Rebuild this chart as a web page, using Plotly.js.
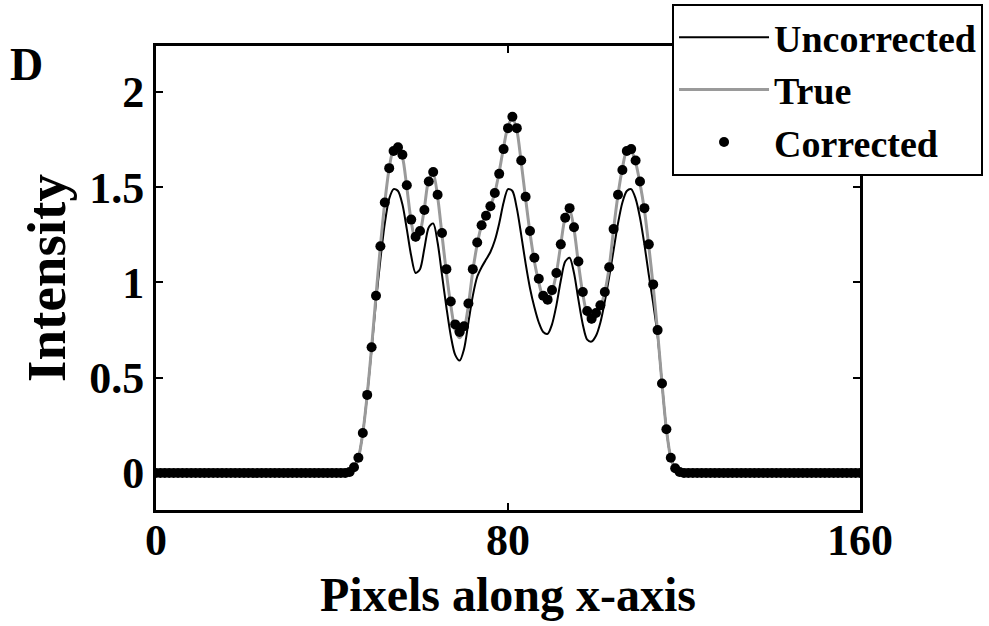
<!DOCTYPE html>
<html>
<head>
<meta charset="utf-8">
<script src="https://cdn.plot.ly/plotly-3.0.1.min.js"></script>
<style>html,body{margin:0;padding:0;background:#fff;}#chart{width:989px;height:626px;}</style>
</head>
<body>
<div id="chart"></div>
<script>
var pixels = [0,1,2,3,4,5,6,7,8,9,10,11,12,13,14,15,16,17,18,19,20,21,22,23,24,25,26,27,28,29,30,31,32,33,34,35,36,37,38,39,
40,41,42,43,44,45,46,47,48,49,50,51,52,53,54,55,56,57,58,59,60,61,62,63,64,65,66,67,68,69,70,71,72,73,74,75,76,77,78,79,
80,81,82,83,84,85,86,87,88,89,90,91,92,93,94,95,96,97,98,99,100,101,102,103,104,105,106,107,108,109,110,111,112,113,114,115,116,117,118,119,
120,121,122,123,124,125,126,127,128,129,130,131,132,133,134,135,136,137,138,139,140,141,142,143,144,145,146,147,148,149,150,151,152,153,154,155,156,157,158,159,160];

// pixels 0-43
var zerosLeft = [0,0,0,0,0,0,0,0,0,0,0,0,0,0,0,0,0,0,0,0,0,0,0,0,0,0,0,0,0,0,0,0,0,0,0,0,0,0,0,0,0,0,0,0];
// pixels 120-160
var zerosRight = [0,0,0,0,0,0,0,0,0,0,0,0,0,0,0,0,0,0,0,0,0,0,0,0,0,0,0,0,0,0,0,0,0,0,0,0,0,0,0,0,0];

// pixels 44-119
var uncorrectedMid = [0.005,0.03,0.08,0.21,0.41,0.65,0.90,1.12,1.31,1.44,1.49,1.48,1.41,1.28,1.14,1.05,1.07,1.18,1.29,1.31,
1.21,1.04,0.87,0.72,0.62,0.59,0.65,0.79,0.93,1.03,1.08,1.12,1.16,1.22,1.31,1.42,1.49,1.48,1.39,1.25,
1.10,0.97,0.87,0.79,0.74,0.73,0.78,0.88,1.01,1.11,1.13,1.05,0.91,0.78,0.70,0.69,0.72,0.79,0.90,1.03,
1.17,1.31,1.42,1.48,1.49,1.44,1.34,1.20,1.04,0.89,0.72,0.47,0.23,0.08,0.025,0.005];

var trueMid = [0.005,0.03,0.08,0.21,0.41,0.66,0.93,1.19,1.42,1.60,1.70,1.71,1.66,1.50,1.32,1.22,1.26,1.39,1.54,1.57,
1.45,1.25,1.05,0.88,0.75,0.71,0.75,0.88,1.06,1.20,1.30,1.35,1.40,1.47,1.58,1.71,1.82,1.86,1.80,1.63,
1.44,1.26,1.11,1.00,0.92,0.90,0.95,1.05,1.20,1.34,1.38,1.28,1.10,0.94,0.83,0.79,0.82,0.87,0.95,1.08,
1.28,1.46,1.60,1.69,1.69,1.63,1.52,1.38,1.19,0.98,0.74,0.47,0.23,0.08,0.025,0.005];

var correctedMid = [0.005,0.03,0.08,0.21,0.41,0.66,0.93,1.19,1.42,1.60,1.69,1.71,1.67,1.51,1.33,1.24,1.27,1.38,1.53,1.58,
1.46,1.26,1.07,0.90,0.78,0.74,0.77,0.89,1.07,1.21,1.30,1.35,1.40,1.47,1.57,1.70,1.81,1.87,1.81,1.64,
1.45,1.27,1.13,1.02,0.93,0.91,0.96,1.05,1.20,1.34,1.39,1.29,1.11,0.95,0.85,0.81,0.84,0.88,0.95,1.08,
1.28,1.46,1.59,1.69,1.70,1.64,1.53,1.39,1.20,0.99,0.75,0.47,0.23,0.08,0.025,0.005];

var uncorrected = zerosLeft.concat(uncorrectedMid, zerosRight);
var trueProfile = zerosLeft.concat(trueMid, zerosRight);
var corrected = zerosLeft.concat(correctedMid, zerosRight);

var xTicks = [0, 80, 160];
var yTicks = [0, 0.5, 1, 1.5, 2];
var yTickLabels = ['0', '0.5', '1', '1.5', '2'];

var serif = 'Liberation Serif, Times New Roman, serif';

var traces = [
  {x: pixels, y: uncorrected, type: 'scatter', mode: 'lines', name: 'Uncorrected',
   line: {color: '#000000', width: 2, shape: 'spline', smoothing: 0.8}},
  {x: pixels, y: trueProfile, type: 'scatter', mode: 'lines', name: 'True',
   line: {color: '#9a9a9a', width: 3, shape: 'spline', smoothing: 0.8}},
  {x: pixels, y: corrected, type: 'scatter', mode: 'markers', name: 'Corrected',
   marker: {color: '#000000', size: 10}}
];

var axisCommon = {
  showline: true, linecolor: '#000', linewidth: 3, mirror: 'ticks',
  ticks: 'inside', ticklen: 7, tickwidth: 2, tickcolor: '#000',
  showgrid: false, zeroline: false,
  tickfont: {family: serif, size: 44, color: '#000', weight: 'bold'}
};

var layout = {
  width: 989, height: 626,
  paper_bgcolor: '#ffffff', plot_bgcolor: '#ffffff',
  margin: {l: 156, r: 129, t: 46, b: 116, autoexpand: false},
  showlegend: true,
  xaxis: Object.assign({}, axisCommon, {
    range: [0, 160], tickvals: xTicks, ticktext: xTicks.map(String),
    ticklabelstandoff: -11,
    title: {text: '<b>Pixels along x-axis</b>', font: {family: serif, size: 48, color: '#000'}, standoff: 14}
  }),
  yaxis: Object.assign({}, axisCommon, {
    range: [-0.194, 2.241], tickvals: yTicks, ticktext: yTickLabels,
    title: {text: '<b>Intensity</b>', font: {family: serif, size: 55, color: '#000'}, standoff: 6}
  }),
  legend: {
    x: 0.733, y: 1.0905, xanchor: 'left', yanchor: 'top',
    bgcolor: '#ffffff', bordercolor: '#000', borderwidth: 2,
    font: {family: serif, size: 38, color: '#000', weight: 'bold'},
    itemwidth: 90, tracegroupgap: 0
  },
  annotations: [
    {text: '<b>D</b>', xref: 'paper', yref: 'paper', x: -0.21, y: 0.96, xanchor: 'left', yanchor: 'middle',
     showarrow: false, font: {family: serif, size: 46, color: '#000'}}
  ]
};

Plotly.newPlot('chart', traces, layout, {displayModeBar: false, staticPlot: true});
</script>
</body>
</html>
